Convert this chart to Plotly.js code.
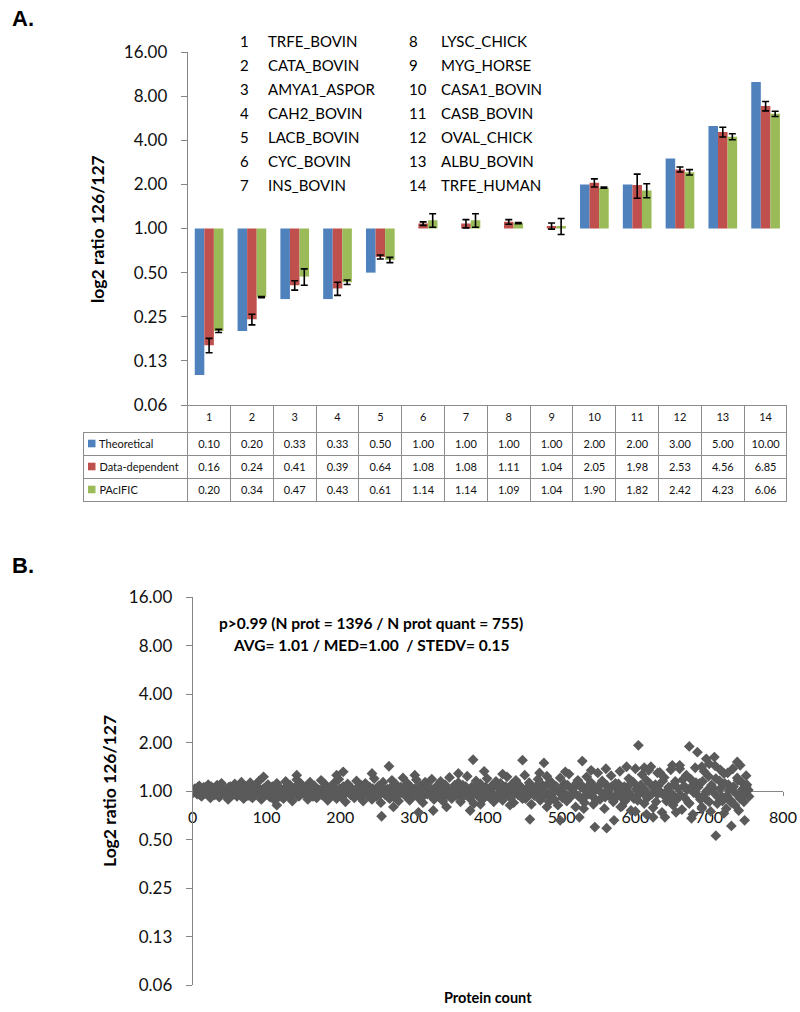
<!DOCTYPE html>
<html>
<head>
<meta charset="utf-8">
<script src="https://cdn.plot.ly/plotly-3.0.1.min.js"></script>
<style>html,body{margin:0;padding:0;background:#fff;}#chart{width:800px;height:1012px;}</style>
</head>
<body>
<div id="chart"></div>
<script>
// ---------- Panel A data ----------
const categories = [1,2,3,4,5,6,7,8,9,10,11,12,13,14];
const proteinNames = ['TRFE_BOVIN','CATA_BOVIN','AMYA1_ASPOR','CAH2_BOVIN','LACB_BOVIN','CYC_BOVIN','INS_BOVIN',
                      'LYSC_CHICK','MYG_HORSE','CASA1_BOVIN','CASB_BOVIN','OVAL_CHICK','ALBU_BOVIN','TRFE_HUMAN'];
const seriesNames = ['Theoretical','Data-dependent','PAcIFIC'];
const theoretical   = [0.10,0.20,0.33,0.33,0.50,1.00,1.00,1.00,1.00,2.00,2.00,3.00,5.00,10.00];
const dataDependent = [0.16,0.24,0.41,0.39,0.64,1.08,1.08,1.11,1.04,2.05,1.98,2.53,4.56,6.85];
const pacific       = [0.20,0.34,0.47,0.43,0.61,1.14,1.14,1.09,1.04,1.90,1.82,2.42,4.23,6.06];
const dataDependentErr = [0.018,0.02,0.03,0.04,0.02,0.03,0.07,0.04,0.05,0.13,0.37,0.10,0.35,0.50];
const pacificErr       = [0.005,0.003,0.06,0.015,0.025,0.12,0.12,0.01,0.13,0.02,0.20,0.10,0.20,0.25];
const logTickVals = [0.0625,0.125,0.25,0.5,1,2,4,8,16];
const logTickText = ['0.06','0.13','0.25','0.50','1.00','2.00','4.00','8.00','16.00'];

// ---------- Panel B data ----------
// ratios for protein ranks 0,3,6,... (set 1) and 1,4,7,... (set 2)
const bandStep = 3;
const bandRatios = [
 1.00,1.04,0.96,1.08,0.93,1.06,0.97,1.10,0.91,1.05,0.95,1.09,
 0.92,1.12,0.97,1.03,0.89,1.07,0.95,1.11,0.93,1.02,1.14,0.90,
 1.06,0.94,1.13,0.91,1.08,0.97,1.16,0.89,1.04,0.95,1.10,0.92,
 1.07,0.88,1.12,0.96,1.03,0.90,1.15,0.94,1.09,0.87,1.05,1.18,
 0.93,1.11,0.97,1.06,0.89,1.14,0.95,1.08,0.91,1.02,1.17,0.94,
 1.10,0.88,1.05,0.96,1.13,0.90,1.19,0.93,1.07,0.86,1.11,0.98,
 1.04,0.91,1.16,0.94,1.09,0.87,1.12,0.96,1.06,0.89,1.20,0.93,
 1.08,0.85,1.14,0.95,1.03,0.90,1.17,0.92,1.10,0.87,1.06,1.21,
 0.94,1.12,0.88,1.05,0.97,1.18,0.91,1.08,0.85,1.14,0.96,1.02,
 1.19,0.89,1.07,0.93,1.15,0.87,1.10,0.96,1.22,0.90,1.04,0.94,
 1.13,0.86,1.09,0.97,1.24,0.91,1.06,0.84,1.16,0.95,1.11,0.89,
 1.03,1.20,0.92,1.08,0.86,1.15,0.96,1.12,0.88,1.05,1.23,0.93,
 1.10,0.85,1.17,0.95,1.07,0.90,1.26,0.92,1.13,0.83,1.04,0.97,
 1.19,0.88,1.09,0.94,1.24,0.86,1.14,0.98,1.06,0.82,1.21,0.91,
 1.11,0.87,1.28,0.95,1.05,0.80,1.17,0.92,1.08,0.85,1.23,0.96,
 1.13,0.83,1.02,1.30,0.89,1.16,0.78,1.09,0.94,1.25,0.86,1.12,
 0.97,1.33,0.81,1.07,0.91,1.20,0.76,1.14,1.38,0.88,1.04,1.27,
 0.84,1.17,0.93,1.42,0.79,1.10,0.96,1.31,0.74,1.22,0.87,1.06,
 1.36,0.82,1.15,0.92,1.45,0.77,1.08,1.26,0.85,1.19,0.72,1.40,
 0.95,1.12,0.80,1.33,0.89,1.24,0.75,1.05,1.44,0.84,1.16,0.93,
 1.29,0.78,1.10,0.88,1.38,0.82,1.21,0.95,1.14,0.86,1.07,1.02
];
const bandRatios2 = [
 0.98,1.02,1.06,0.95,1.01,0.97,1.04,0.94,1.07,0.99,1.03,0.96,
 1.05,0.97,1.01,0.94,1.06,1.00,0.96,1.03,0.98,1.08,0.95,1.02,
 0.99,1.04,0.93,1.01,0.97,1.06,0.95,1.02,0.98,1.07,0.94,1.03,
 1.00,0.96,1.05,0.93,1.02,0.98,1.07,0.95,1.01,0.99,1.04,0.94,
 1.06,0.97,1.02,0.95,1.08,0.99,0.93,1.04,0.97,1.01,0.95,1.06,
 0.98,1.03,0.94,1.07,1.00,0.96,1.04,0.92,1.02,0.99,1.06,0.95,
 1.01,0.97,1.05,0.93,1.03,0.98,1.08,0.94,1.00,1.04,0.96,1.02,
 0.95,1.06,0.99,1.02,0.92,1.05,0.97,1.09,0.94,1.01,0.98,1.04,
 1.07,0.96,1.00,0.93,1.04,0.98,1.06,0.91,1.03,0.99,1.08,0.95,
 1.02,0.94,1.06,0.99,1.03,0.92,1.05,0.97,1.01,0.95,1.09,0.98,
 0.96,1.04,0.93,1.07,1.00,0.95,1.03,0.97,1.10,0.92,1.02,0.99,
 1.06,0.94,1.01,0.97,1.08,0.91,1.04,0.99,0.95,1.07,0.98,1.03,
 0.93,1.05,0.99,1.10,0.95,1.02,0.90,1.06,0.97,1.03,0.94,1.08,
 1.00,0.92,1.05,0.97,1.11,0.94,1.02,0.89,1.07,0.99,1.04,0.95,
 0.96,1.09,0.91,1.03,0.98,1.12,0.93,1.06,0.90,1.01,0.97,1.10,
 0.94,1.04,0.88,1.08,0.99,1.13,0.92,1.02,0.96,1.07,0.89,1.05,
 1.11,0.93,1.00,0.87,1.06,0.97,1.15,0.90,1.03,0.95,1.09,0.98,
 1.02,0.91,1.12,0.96,1.05,0.86,1.08,0.99,1.16,0.93,1.01,0.89,
 0.97,1.10,0.88,1.04,0.95,1.18,0.91,1.02,0.84,1.07,0.98,1.13,
 1.06,0.89,1.15,0.96,1.01,0.86,1.09,0.98,1.20,0.92,1.04,0.87,
 1.12,0.94,1.02,0.85,1.07,0.97,1.17,0.90,1.03,0.96,1.10,0.93
];
const outlierCounts = [96,114,141,195,204,243,256,266,272,301,306,326,344,360,376,380,447,457,476,498,524,528,545,561,571,604,624,640,673,676,684,696,707,709,730,738,748,
  612,618,630,650,660,690,700,715,725,742,750,588,560,540,505,470,420,395,600,615,655,690,720,740,580,530,480,430,390];
const outlierRatios = [1.23,0.82,1.26,1.26,1.32,1.29,0.70,1.43,0.80,1.26,0.74,0.76,0.80,1.29,0.76,1.57,1.56,0.67,1.50,0.66,0.69,1.54,0.60,0.59,0.66,1.93,0.69,0.69,1.90,0.68,1.75,1.59,1.63,0.53,0.61,1.52,0.66,
  1.40,1.35,1.30,1.45,1.38,1.42,1.48,1.36,1.30,1.45,1.25,1.42,1.38,1.35,1.32,1.30,1.28,1.33,0.75,0.72,0.74,0.78,0.73,0.76,0.80,0.78,0.80,0.82,0.83];
const xTicksB = [0,100,200,300,400,500,600,700,800];

// ---------- styling helpers ----------
const W = 800, H = 1012;
const px = v => v / W;
const py = v => 1 - v / H;
const FONT = 'Lato, "Open Sans", sans-serif';
const colors = ['#4f81bd','#c0504d','#9bbb59'];
const axisGray = '#868686';
const markerGray = '#5a5a5a';

const baseVal = 1;
const barTrace = (vals, name, color, err) => {
  const t = {
    type: 'bar', x: categories, y: vals.map(v => v - baseVal), base: baseVal,
    name: name, marker: {color: color, line: {width: 0}}, xaxis: 'x', yaxis: 'y',
    hoverinfo: 'skip'
  };
  if (err) t.error_y = {type: 'data', array: err, visible: true, color: '#000', thickness: 1.6, width: 3.5};
  return t;
};
const diamondTrace = (xs, ys) => ({
  type: 'scatter', mode: 'markers', xaxis: 'x2', yaxis: 'y2', x: xs, y: ys,
  marker: {symbol: 'diamond', size: 8.3, color: markerGray, line: {width: 0}}, hoverinfo: 'skip'
});

const NBSP = '\u00a0';
const traces = [
  barTrace(theoretical, seriesNames[0], colors[0], null),
  barTrace(dataDependent, seriesNames[1], colors[1], dataDependentErr),
  barTrace(pacific, seriesNames[2], colors[2], pacificErr),
  {
    type: 'table',
    domain: {x: [px(83), px(787)], y: [py(503), py(405)]},
    columnwidth: [104.7].concat(categories.map(() => 42.8)),
    header: {
      values: [''].concat(categories.map(String)),
      height: 27,
      align: 'center',
      line: {color: '#8c8c8c', width: [0].concat(categories.map(() => 1))},
      fill: {color: 'rgba(0,0,0,0)'},
      font: {family: FONT, size: 11, color: '#111'}
    },
    cells: {
      values: [seriesNames.map(n => NBSP + NBSP + NBSP + n)]
        .concat(categories.map((c, i) => [theoretical[i], dataDependent[i], pacific[i]].map(v => v.toFixed(2)))),
      height: 23,
      align: ['left'].concat(categories.map(() => 'center')),
      line: {color: '#8c8c8c', width: 1},
      fill: {color: '#fff'},
      font: {family: FONT, size: 11, color: '#111'}
    }
  },
  diamondTrace(bandRatios.map((v, i) => i * bandStep), bandRatios),
  diamondTrace(bandRatios2.map((v, i) => i * bandStep + 1), bandRatios2),
  diamondTrace(outlierCounts, outlierRatios)
];

const annotations = [];
const addText = (text, x, y, opts) => annotations.push(Object.assign({
  text: text, xref: 'paper', yref: 'paper', x: px(x), y: py(y), showarrow: false,
  xanchor: 'left', yanchor: 'middle', font: {family: FONT, size: 15, color: '#000'}
}, opts || {}));

addText('<b>A.</b>', 10, 18, {font: {family: 'Liberation Sans, Arial, sans-serif', size: 22, color: '#000'}});
addText('<b>B.</b>', 10, 565, {font: {family: 'Liberation Sans, Arial, sans-serif', size: 22, color: '#000'}});
proteinNames.forEach((n, i) => {
  const col = i < 7 ? 0 : 1;
  const row = i % 7;
  const yy = 41 + row * 24;
  addText(String(categories[i]), col ? 407 : 238, yy);
  addText(n, col ? 439 : 266, yy);
});
addText('<b>log2 ratio 126/127</b>', 97, 229, {textangle: -90, xanchor: 'center', font: {family: FONT, size: 17.5, color: '#000'}});
addText('<b>Log2 ratio 126/127</b>', 109, 791, {textangle: -90, xanchor: 'center', font: {family: FONT, size: 17.5, color: '#000'}});
addText('<b>p&gt;0.99 (N prot = 1396 / N prot quant = 755)</b>', 371, 623, {xanchor: 'center', font: {family: FONT, size: 15.5, color: '#000'}});
addText('<b>AVG= 1.01 / MED=1.00  / STEDV= 0.15</b>', 371, 645, {xanchor: 'center', font: {family: FONT, size: 15.5, color: '#000'}});
addText('<b>Protein count</b>', 488, 997, {xanchor: 'center', font: {family: FONT, size: 14.5, color: '#000'}});

// legend keys in the data table
const rowCenters = [443.5, 466.5, 489.5];
const keyShapes = colors.map((c, i) => ({
  type: 'rect', xref: 'paper', yref: 'paper', x0: px(88), x1: px(95.5),
  y0: py(rowCenters[i] + 3.8), y1: py(rowCenters[i] - 3.8), fillcolor: c, line: {width: 0}, layer: 'above'
}));

const logRange = [Math.log10(0.0625), Math.log10(16)];
const yLog = (domain, anchor) => ({
  domain: domain, type: 'log', range: logRange, anchor: anchor,
  tickvals: logTickVals, ticktext: logTickText,
  showline: true, linecolor: axisGray, linewidth: 1,
  ticks: 'outside', ticklen: 6, tickcolor: axisGray, tickwidth: 1,
  ticklabelstandoff: 10,
  showgrid: false, zeroline: false, fixedrange: true,
  tickfont: {family: FONT, size: 17, color: '#111'}
});

const layout = {
  width: W, height: H,
  margin: {l: 0, r: 0, t: 0, b: 0, pad: 0},
  paper_bgcolor: '#fff', plot_bgcolor: 'rgba(0,0,0,0)',
  showlegend: false,
  barmode: 'group', bargap: 0.33, bargroupgap: 0,
  font: {family: FONT, color: '#000'},
  xaxis: {domain: [px(187.7), px(787)], range: [0.5, 14.5], anchor: 'y',
          showticklabels: false, ticks: '', showline: false, showgrid: false, zeroline: false, fixedrange: true},
  yaxis: yLog([py(405), py(52)], 'x'),
  xaxis2: {domain: [px(192.7), px(783)], range: [0, 800], anchor: 'free', position: py(791),
           tickvals: xTicksB, showline: true, linecolor: axisGray, linewidth: 1,
           ticks: 'outside', ticklen: 4, tickcolor: axisGray, ticklabelstandoff: 8,
           showgrid: false, zeroline: false, layer: 'below traces', fixedrange: true,
           tickfont: {family: FONT, size: 16, color: '#111'}},
  yaxis2: yLog([py(985.3), py(597.3)], 'x2'),
  shapes: [
    {type: 'line', xref: 'paper', yref: 'y', x0: px(187.7), x1: px(787), y0: 0, y1: 0,
     line: {color: axisGray, width: 1}, layer: 'below'}
  ].concat(keyShapes),
  annotations: annotations
};

Plotly.newPlot('chart', traces, layout, {staticPlot: true, displayModeBar: false});
</script>
</body>
</html>
